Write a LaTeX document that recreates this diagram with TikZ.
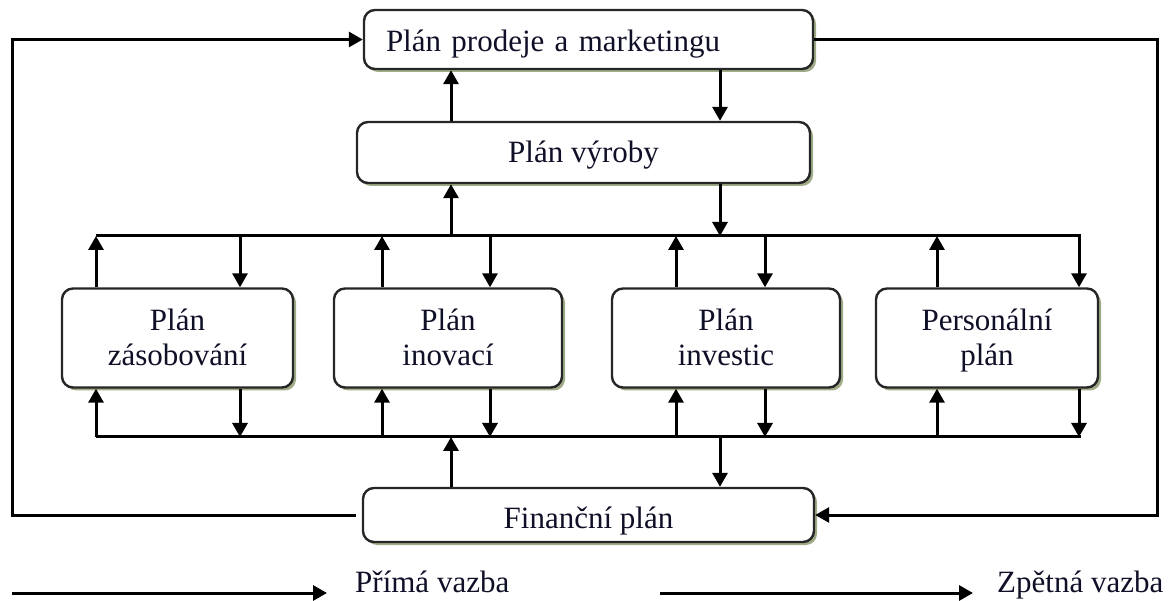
\documentclass[tikz,border=0pt]{standalone}
\usepackage{fontspec}
\setmainfont{Liberation Serif}
\usetikzlibrary{arrows.meta,shadows}
\definecolor{txt}{RGB}{15,15,40}
\definecolor{shd}{RGB}{160,172,135}
\begin{document}
\begin{tikzpicture}[x=1pt,y=-1pt,
  box/.style={draw=black!85, line width=2.4pt, rounded corners=11pt, fill=white,
    text=txt, font=\fontsize{31}{35}\selectfont, align=center, inner sep=0pt,
    drop shadow={shadow xshift=3pt,shadow yshift=-3pt,fill=shd,opacity=1}},
  small/.style={box, minimum height=99pt, text height=56pt, text depth=0pt},
  conn/.style={line width=3pt, -{Triangle[length=14pt,width=15pt]}},
  bus/.style={line width=3pt},
  lbl/.style={text=txt, font=\fontsize{31}{35}\selectfont, inner sep=0pt}]
\useasboundingbox (0,0) rectangle (1176,601);

% boxes
\node[box, minimum height=59pt, text width=405pt, inner xsep=22pt, align=left,
      text height=25pt, text depth=0pt] (prodej) at (588.5,39.5) {Plán prodeje a marketingu};
\node[box, minimum width=453pt, minimum height=61pt, text height=21pt, text depth=0pt] (vyroba) at (583.5,152.5) {Plán výroby};
\node[small, minimum width=231pt] (zas) at (177.5,338) {Plán\\zásobování};
\node[small, minimum width=228pt] (inov) at (448,338) {Plán\\inovací};
\node[small, minimum width=228pt] (inv) at (726,338) {Plán\\investic};
\node[small, minimum width=222pt] (pers) at (987,338) {Personální\\plán};
\node[box, minimum width=451pt, minimum height=54pt, text height=28pt, text depth=0pt] (fin) at (588.5,515) {Finanční plán};

% bus coordinates
\coordinate (TL) at (96,236);
\coordinate (TR) at (1081,236);
\coordinate (BL) at (96,437);
\coordinate (BR) at (1081,437);
\foreach \x in {96,240,382,490,676,765,937,1079,451,720}{
  \coordinate (T\x) at (\x,236);
  \coordinate (B\x) at (\x,437);
}
\draw[bus] (TL) -- (TR);
\draw[bus] (BL) -- (BR);

% prodej <-> vyroba
\draw[conn] (vyroba.north -| T451) -- (prodej.south -| T451);
\draw[conn] (prodej.south -| T720) -- (vyroba.north -| T720);
% vyroba <-> top bus
\draw[conn] (T451) -- (vyroba.south -| T451);
\draw[conn] (vyroba.south -| T720) -- (T720);
% fin <-> bottom bus
\draw[conn] (fin.north -| B451) -- (B451);
\draw[conn] (B720) -- (fin.north -| B720);

% boxes <-> top bus
\draw[conn] (zas.north -| T96) -- (T96);
\draw[conn] (T240) -- (zas.north -| T240);
\draw[conn] (inov.north -| T382) -- (T382);
\draw[conn] (T490) -- (inov.north -| T490);
\draw[conn] (inv.north -| T676) -- (T676);
\draw[conn] (T765) -- (inv.north -| T765);
\draw[conn] (pers.north -| T937) -- (T937);
\draw[conn] (T1079) -- (pers.north -| T1079);

% boxes <-> bottom bus
\draw[conn] (B96) -- (zas.south -| B96);
\draw[conn] (zas.south -| B240) -- (B240);
\draw[conn] (B382) -- (inov.south -| B382);
\draw[conn] (inov.south -| B490) -- (B490);
\draw[conn] (B676) -- (inv.south -| B676);
\draw[conn] (inv.south -| B765) -- (B765);
\draw[conn] (B937) -- (pers.south -| B937);
\draw[conn] (pers.south -| B1079) -- (B1079);

% feedback loops
\coordinate (LC) at (12,300);
\coordinate (RC) at (1157,300);
\draw[conn, shorten <=6pt] (fin.west) -| (LC) |- (prodej.west);
\draw[conn] (prodej.east) -| (RC) |- (fin.east);

% legend
\coordinate (La) at (12,593);
\coordinate (Lb) at (327,593);
\coordinate (Lc) at (660,593);
\coordinate (Ld) at (973,593);
\draw[conn] (La) -- (Lb);
\draw[conn] (Lc) -- (Ld);
\node[lbl, anchor=base west] (lt1) at (355,592) {Přímá vazba};
\node[lbl, anchor=base west] (lt2) at (997,592) {Zpětná vazba};
\end{tikzpicture}
\end{document}
